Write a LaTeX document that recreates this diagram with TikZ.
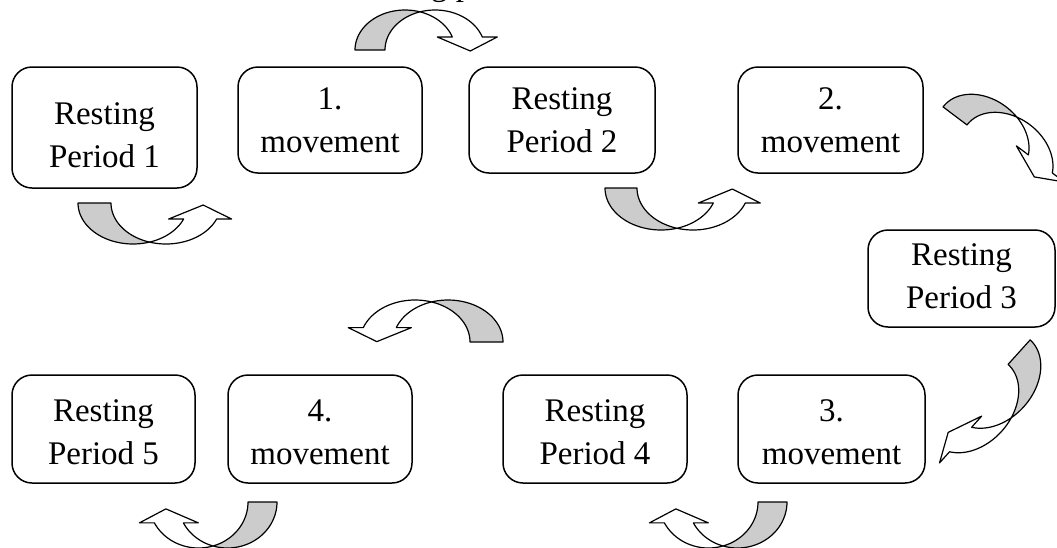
\documentclass[tikz,border=0pt]{standalone}
\usepackage{fontspec}
\setmainfont{Liberation Serif}

% Curved block arrow in a local frame: tail at the left, arch upwards,
% head at the right pointing down. #1 scope options, #2/#3 ellipse radii,
% #4 band width, #5 angle where the head starts.
\newcommand{\bentarrow}[5]{%
  \begin{scope}[#1]
    \pgfmathsetmacro\arx{#2}
    \pgfmathsetmacro\ary{#3}
    \pgfmathsetmacro\aw{#4}
    \pgfmathsetmacro\ate{#5}
    \pgfmathsetmacro\atc{acos(\aw/(2*\arx))}
    \pgfmathsetmacro\atcb{180-\atc}
    \pgfmathsetmacro\apx{\arx*cos(\ate)}
    \pgfmathsetmacro\apy{\ary*sin(\ate)}
    \filldraw[band, fill=black!20]
      plot[domain=180:\atc, samples=30] ({\arx*cos(\x)},{\ary*sin(\x)})
      -- plot[domain=\atcb:180, samples=30] ({\aw+\arx*cos(\x)},{\ary*sin(\x)})
      -- cycle;
    \filldraw[band, fill=white]
      plot[domain=\atc:\ate, samples=30] ({\arx*cos(\x)},{\ary*sin(\x)})
      -- ({\apx-15},\apy) -- ({\aw/2+\apx+3},{\apy-14})
      -- ({\aw+\apx+15},\apy) -- ({\aw+\apx},\apy)
      -- plot[domain=\ate:\atcb, samples=30] ({\aw+\arx*cos(\x)},{\ary*sin(\x)})
      -- cycle;
  \end{scope}}

\begin{document}
\begin{tikzpicture}[x=1pt, y=1pt,
  stagebox/.style={draw, line width=1.5pt, rounded corners=20pt, inner sep=0pt},
  boxtext/.style={font=\fontsize{33}{43}\selectfont, align=center, inner sep=0pt},
  band/.style={draw, line width=1.2pt, line join=round},
]
\useasboundingbox (0,0) rectangle (1057,-547);
\clip (0,0) rectangle (1057,-547);

% heading, running off the top edge
\node[boxtext, anchor=base] (title) at (450,5) {Resting periods};

% top row
\node[stagebox, minimum width=185pt, minimum height=121pt] (rp1) at (104.5,-127.5) {};
\node[stagebox, minimum width=184pt, minimum height=106pt] (m1)  at (330,-120) {};
\node[stagebox, minimum width=186pt, minimum height=106pt] (rp2) at (562,-120) {};
\node[stagebox, minimum width=185pt, minimum height=106pt] (m2)  at (830.5,-120) {};
% right side
\node[stagebox, minimum width=187pt, minimum height=97pt]  (rp3) at (961.5,-278.5) {};
% bottom row
\node[stagebox, minimum width=183pt, minimum height=108pt] (rp5) at (103.5,-429) {};
\node[stagebox, minimum width=184pt, minimum height=108pt] (m4)  at (320,-429) {};
\node[stagebox, minimum width=184pt, minimum height=108pt] (rp4) at (595,-429) {};
\node[stagebox, minimum width=187pt, minimum height=108pt] (m3)  at (831.5,-429) {};

% labels
\node[boxtext] (trp1) at (104.5,-135) {Resting\\Period 1};
\node[boxtext] (tm1)  at (330,-120)   {1.\\movement};
\node[boxtext] (trp2) at (562,-120)   {Resting\\Period 2};
\node[boxtext] (tm2)  at (830.5,-120) {2.\\movement};
\node[boxtext] (trp3) at (961.5,-276) {Resting\\Period 3};
\node[boxtext] (trp5) at (103.5,-432) {Resting\\Period 5};
\node[boxtext] (tm4)  at (320,-432)   {4.\\movement};
\node[boxtext] (trp4) at (595,-432)   {Resting\\Period 4};
\node[boxtext] (tm3)  at (831.5,-432) {3.\\movement};

% curved arrows
\bentarrow{shift={(405,-50)}}{50}{40}{30}{19}
\bentarrow{shift={(133,-203)}, yscale=-1}{55}{41}{33}{23}
\bentarrow{shift={(661,-188)}, yscale=-1}{56}{42}{32}{21}
\bentarrow{shift={(983,-137)}, rotate=-37}{50}{38}{30}{20}
\bentarrow{shift={(994,-380)}, rotate=-132}{54}{40}{33}{22}
\bentarrow{shift={(448,-342)}, xscale=-1}{55}{42}{33}{20}
\bentarrow{shift={(227.5,-502)}, xscale=-1, yscale=-1}{49.5}{46}{29}{27}
\bentarrow{shift={(737.5,-502)}, xscale=-1, yscale=-1}{49.5}{46}{29}{27}
\end{tikzpicture}
\end{document}
